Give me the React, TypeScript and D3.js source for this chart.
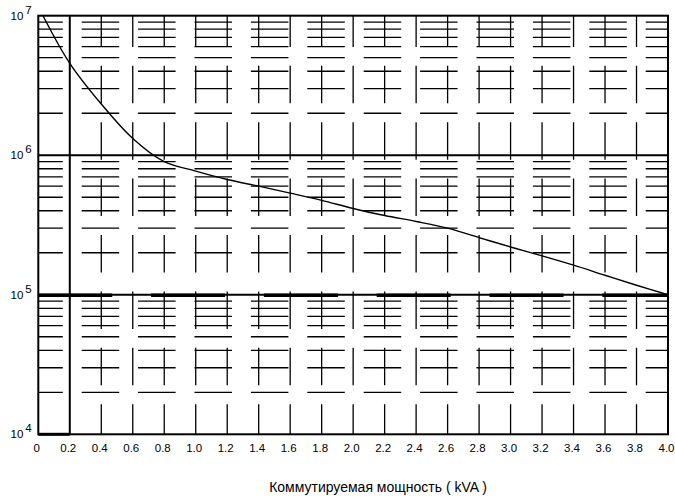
import { useRef, useEffect } from 'react';
import * as d3 from 'd3';

// switched power (kVA) vs. switching cycles
const powerKVA = [0.03, 0.2, 0.4, 0.6, 0.8, 1.0, 1.2, 1.4, 1.6, 1.8, 2.0, 2.2, 2.4, 2.6, 2.8, 3.0, 3.2, 3.4, 3.6, 3.8, 4.0];
const cycles = [1.0e7, 4.56e6, 2.33e6, 1.32e6, 9.0e5, 7.7e5, 6.7e5, 6.0e5, 5.35e5, 4.75e5, 4.15e5, 3.7e5, 3.35e5, 3.0e5, 2.57e5, 2.2e5, 1.9e5, 1.63e5, 1.38e5, 1.17e5, 1.0e5];
const xTicks = [0, 0.2, 0.4, 0.6, 0.8, 1.0, 1.2, 1.4, 1.6, 1.8, 2.0, 2.2, 2.4, 2.6, 2.8, 3.0, 3.2, 3.4, 3.6, 3.8, 4.0];
const yDecades = [4, 5, 6, 7];
const xTitle = 'Коммутируемая мощность ( kVA )';

export default function App() {
  const svgRef = useRef<SVGSVGElement>(null);

  useEffect(() => {
    if (!svgRef.current) return;
    const width = 675;
    const height = 501;
    const svg = d3.select(svgRef.current);
    svg.selectAll('*').remove();
    svg.attr('width', width).attr('height', height);

    const margin = { top: 15.7, right: 7, bottom: 66.7, left: 38.3 };
    const x0 = margin.left;
    const x1 = width - margin.right;
    const y0 = margin.top;
    const y1 = height - margin.bottom;

    const x = d3.scaleLinear().domain([0, 4]).range([x0, x1]);
    const y = d3.scaleLog().domain([1e4, 1e7]).range([y1, y0]);

    const font = 'Arial, "Liberation Sans", sans-serif';
    const period = 56.4;
    const dash = '37.5 18.9';

    // minor horizontal grid (2..9 per decade), dashed
    const minor: number[] = [];
    yDecades.slice(0, 3).forEach((p) => {
      for (let m = 2; m <= 9; m++) minor.push(m * Math.pow(10, p));
    });
    svg.append('g')
      .selectAll('line')
      .data(minor)
      .join('line')
      .attr('x1', x0)
      .attr('x2', x1)
      .attr('y1', (d) => y(d))
      .attr('y2', (d) => y(d))
      .attr('stroke', '#000')
      .attr('stroke-width', 1.3)
      .attr('stroke-dasharray', dash)
      .attr('stroke-dashoffset', ((x0 - 25.3) % period + period) % period);

    // vertical grid, dashed
    svg.append('g')
      .selectAll('line')
      .data(xTicks.filter((d) => d > 0.2 && d < 4))
      .join('line')
      .attr('x1', (d) => x(d))
      .attr('x2', (d) => x(d))
      .attr('y1', y0)
      .attr('y2', y1)
      .attr('stroke', '#000')
      .attr('stroke-width', 1.3)
      .attr('stroke-dasharray', dash)
      .attr('stroke-dashoffset', ((y0 - 9.4) % period + period) % period);

    // solid line at 0.2
    svg.append('line')
      .attr('x1', x(0.2)).attr('x2', x(0.2))
      .attr('y1', y0).attr('y2', y1)
      .attr('stroke', '#000').attr('stroke-width', 2);

    // major decade lines
    svg.append('g')
      .selectAll('line')
      .data([1e5, 1e6])
      .join('line')
      .attr('x1', x0)
      .attr('x2', x1)
      .attr('y1', (d) => y(d))
      .attr('y2', (d) => y(d))
      .attr('stroke', '#000')
      .attr('stroke-width', 2);

    // heavier dashes over 10^5
    svg.append('line')
      .attr('x1', x0).attr('x2', x1)
      .attr('y1', y(1e5) + 0.5).attr('y2', y(1e5) + 0.5)
      .attr('stroke', '#000').attr('stroke-width', 3.5)
      .attr('stroke-dasharray', '74 38.8')
      .attr('stroke-dashoffset', 0);

    // frame
    svg.append('rect')
      .attr('x', x0).attr('y', y0)
      .attr('width', x1 - x0).attr('height', y1 - y0)
      .attr('fill', 'none').attr('stroke', '#000').attr('stroke-width', 2);
    svg.append('line')
      .attr('x1', x0).attr('x2', x(0.2))
      .attr('y1', y1).attr('y2', y1)
      .attr('stroke', '#000').attr('stroke-width', 3);

    // curve
    const line = d3.line<number>()
      .x((_, i) => x(powerKVA[i]))
      .y((d) => y(d))
      .curve(d3.curveCatmullRom.alpha(0.5));
    svg.append('path')
      .datum(cycles)
      .attr('d', line)
      .attr('fill', 'none')
      .attr('stroke', '#000')
      .attr('stroke-width', 1.4);

    // x tick labels
    svg.append('g')
      .selectAll('text')
      .data(xTicks)
      .join('text')
      .attr('x', (d) => x(d) - 1.5)
      .attr('y', y1 + 18)
      .attr('text-anchor', 'middle')
      .attr('font-family', font)
      .attr('font-size', 11.5)
      .attr('fill', '#000')
      .text((d) => (d === 0 ? '0' : d.toFixed(1)));

    // y tick labels 10^n
    const yl = svg.append('g')
      .selectAll('text')
      .data(yDecades)
      .join('text')
      .attr('x', 10.5)
      .attr('y', (d) => y(Math.pow(10, d)) + 4)
      .attr('font-family', font)
      .attr('font-size', 11.5)
      .attr('fill', '#000');
    yl.append('tspan').text('10');
    yl.append('tspan')
      .attr('dx', 2)
      .attr('dy', -6)
      .attr('font-size', 11.5)
      .text((d) => String(d));

    // axis title
    svg.append('text')
      .attr('x', 378)
      .attr('y', 492)
      .attr('text-anchor', 'middle')
      .attr('font-family', font)
      .attr('font-size', 14)
      .attr('fill', '#000')
      .text(xTitle);
  }, []);

  return (
    <svg ref={svgRef} style={{ position: 'absolute', left: 0, top: 0, background: '#fff' }} />
  );
}
